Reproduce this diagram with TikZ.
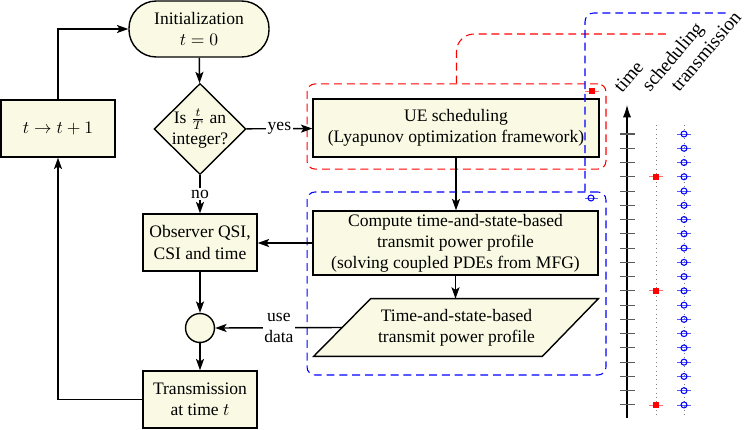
\documentclass[tikz,border=0pt]{standalone}
\usepackage{fontspec}
\setmainfont{Liberation Serif}
\usetikzlibrary{arrows.meta,shapes.geometric,calc,backgrounds}
\definecolor{boxfill}{RGB}{250,250,228}
\begin{document}
\begin{tikzpicture}[x=0.57pt,y=-0.57pt,
  font=\fontsize{10}{12}\selectfont,
  box/.style={draw,thick,fill=boxfill,align=center,inner sep=1pt},
  arr/.style={thick,-{Stealth[length=6.5pt,width=4.6pt,inset=1.5pt]}},
  grp/.style={dash pattern=on 4.5pt off 2.8pt,line width=0.6pt},
  lbl/.style={fill=white,inner sep=1pt,align=center},
  axlbl/.style={rotate=50,anchor=base west,inner sep=0pt,font=\fontsize{11}{13}\selectfont},
  tickln/.style={black!65,line width=0.6pt},
  guide/.style={gray,dotted,line width=0.5pt},
  schedbar/.style={red!55,line width=0.5pt},
  transbar/.style={blue!65,line width=0.5pt},
  transcirc/.style={blue,line width=0.6pt}]
\useasboundingbox (0,0) rectangle (748,429);

% flowchart nodes
\node[box,rounded corners=15.5pt,minimum width=79.8pt,minimum height=31.9pt] (init) at (199,29) {Initialization\\$t=0$};
\node[box,shape=diamond,minimum width=52.4pt,minimum height=51.9pt,inner sep=-0.7pt] (dia) at (200,129) {Is $\frac{t}{T}$ an\\integer?};
\node[box,minimum width=65pt,minimum height=32.5pt] (tb) at (58,128.5) {$t\rightarrow t+1$};
\node[box,minimum width=65pt,minimum height=32.5pt] (obs) at (200,242.5) {Observer QSI,\\CSI and time};
\node[box,circle,minimum size=16.5pt,inner sep=0pt] (cir) at (200,328) {};
\node[box,minimum width=65pt,minimum height=32.5pt] (trans) at (200,399.5) {Transmission\\at time $t$};
\node[box,minimum width=163pt,minimum height=33pt] (ue) at (456,128) {UE scheduling\\(Lyapunov optimization framework)};
\node[box,minimum width=162.5pt,minimum height=36.5pt] (comp) at (455.5,243) {Compute time-and-state-based\\transmit power profile\\(solving coupled PDEs from MFG)};
\node[align=center,inner sep=0pt,minimum width=129.4pt,minimum height=32.5pt] (pp) at (456.5,327.5) {Time-and-state-based\\transmit power profile};
\begin{scope}[on background layer]
\filldraw[thick,fill=boxfill] ($(pp.north west)+(28,0)$) -- ($(pp.north east)+(28,0)$) -- ($(pp.south east)+(-28,0)$) -- ($(pp.south west)+(-29,0)$) -- cycle;
\end{scope}

% group frames
\node[grp,draw=red,rounded corners=4.5pt,minimum width=170.4pt,minimum height=48.5pt] (rg) at (456.5,126.5) {};
\node[grp,draw=blue,rounded corners=4.5pt,minimum width=170.4pt,minimum height=104.3pt] (bg) at (456.5,283.5) {};

% connectors
\draw[arr] (init) -- (dia);
\draw[arr] (dia) -- node[lbl] {yes} (ue);
\draw[arr] (dia) -- node[lbl] {no} (obs);
\draw[arr] (ue) -- (ue |- comp.north);
\draw[arr] (comp.south) -- (comp.south |- pp.north);
\draw[arr] (comp.west) -- (comp.west -| obs.east);
\draw[arr] (obs) -- (cir);
\draw[arr] (cir) -- (trans);
\draw[arr] (pp.west) -- node[lbl] {use\\data} (cir.east);
\draw[arr] (trans.west) -| (tb.south);
\draw[arr] (tb.north) |- (init.west);

% time chart
\coordinate (tbot) at (627,418);
\coordinate (ttop) at (627,105);
\draw[line width=0.6pt,-{Latex[length=7pt,width=4.6pt]}] (tbot) -- (ttop);
\foreach \k in {0,...,19} {
  \draw[tickln] (620,{134+14.26*\k}) -- (635,{134+14.26*\k});
}
\coordinate (sbot) at (656,418);
\coordinate (stop) at (656,125);
\draw[guide] (stop) -- (sbot);
\coordinate (rbot) at (684,418);
\coordinate (rtop) at (684,125);
\draw[guide] (rtop) -- (rbot);
\foreach \k in {3,11,19} {
  \draw[schedbar] (649,{134+14.26*\k}) -- (663,{134+14.26*\k});
  \fill[red] (653,{131+14.26*\k}) rectangle (659,{137+14.26*\k});
}
\foreach \k in {0,...,19} {
  \draw[transbar] (677,{134+14.26*\k}) -- (691,{134+14.26*\k});
  \draw[transcirc] (684,{134+14.26*\k}) circle (1.7pt);
}
\node[axlbl] (ltime) at (622,94) {time};
\node[axlbl] (lsched) at (650,93) {scheduling};
\node[axlbl] (ltrans) at (679,93) {transmission};

% legend marks on frames
\draw[schedbar] (585,91) -- (599,91);
\fill[red] (589,88) rectangle (595,94);
\draw[transbar] (585,198) -- (598,198);
\draw[transcirc] (591,198) circle (1.7pt);

% dashed links to chart labels
\coordinate (rend) at (670,34);
\coordinate (bturn) at (585,13);
\coordinate (bend) at (730,13);
\draw[grp,red,rounded corners=10pt] (rg.north) |- (rend);
\draw[grp,blue,rounded corners=5pt] (bturn |- bg.north) -- (bturn) -- (bend);
\end{tikzpicture}
\end{document}
